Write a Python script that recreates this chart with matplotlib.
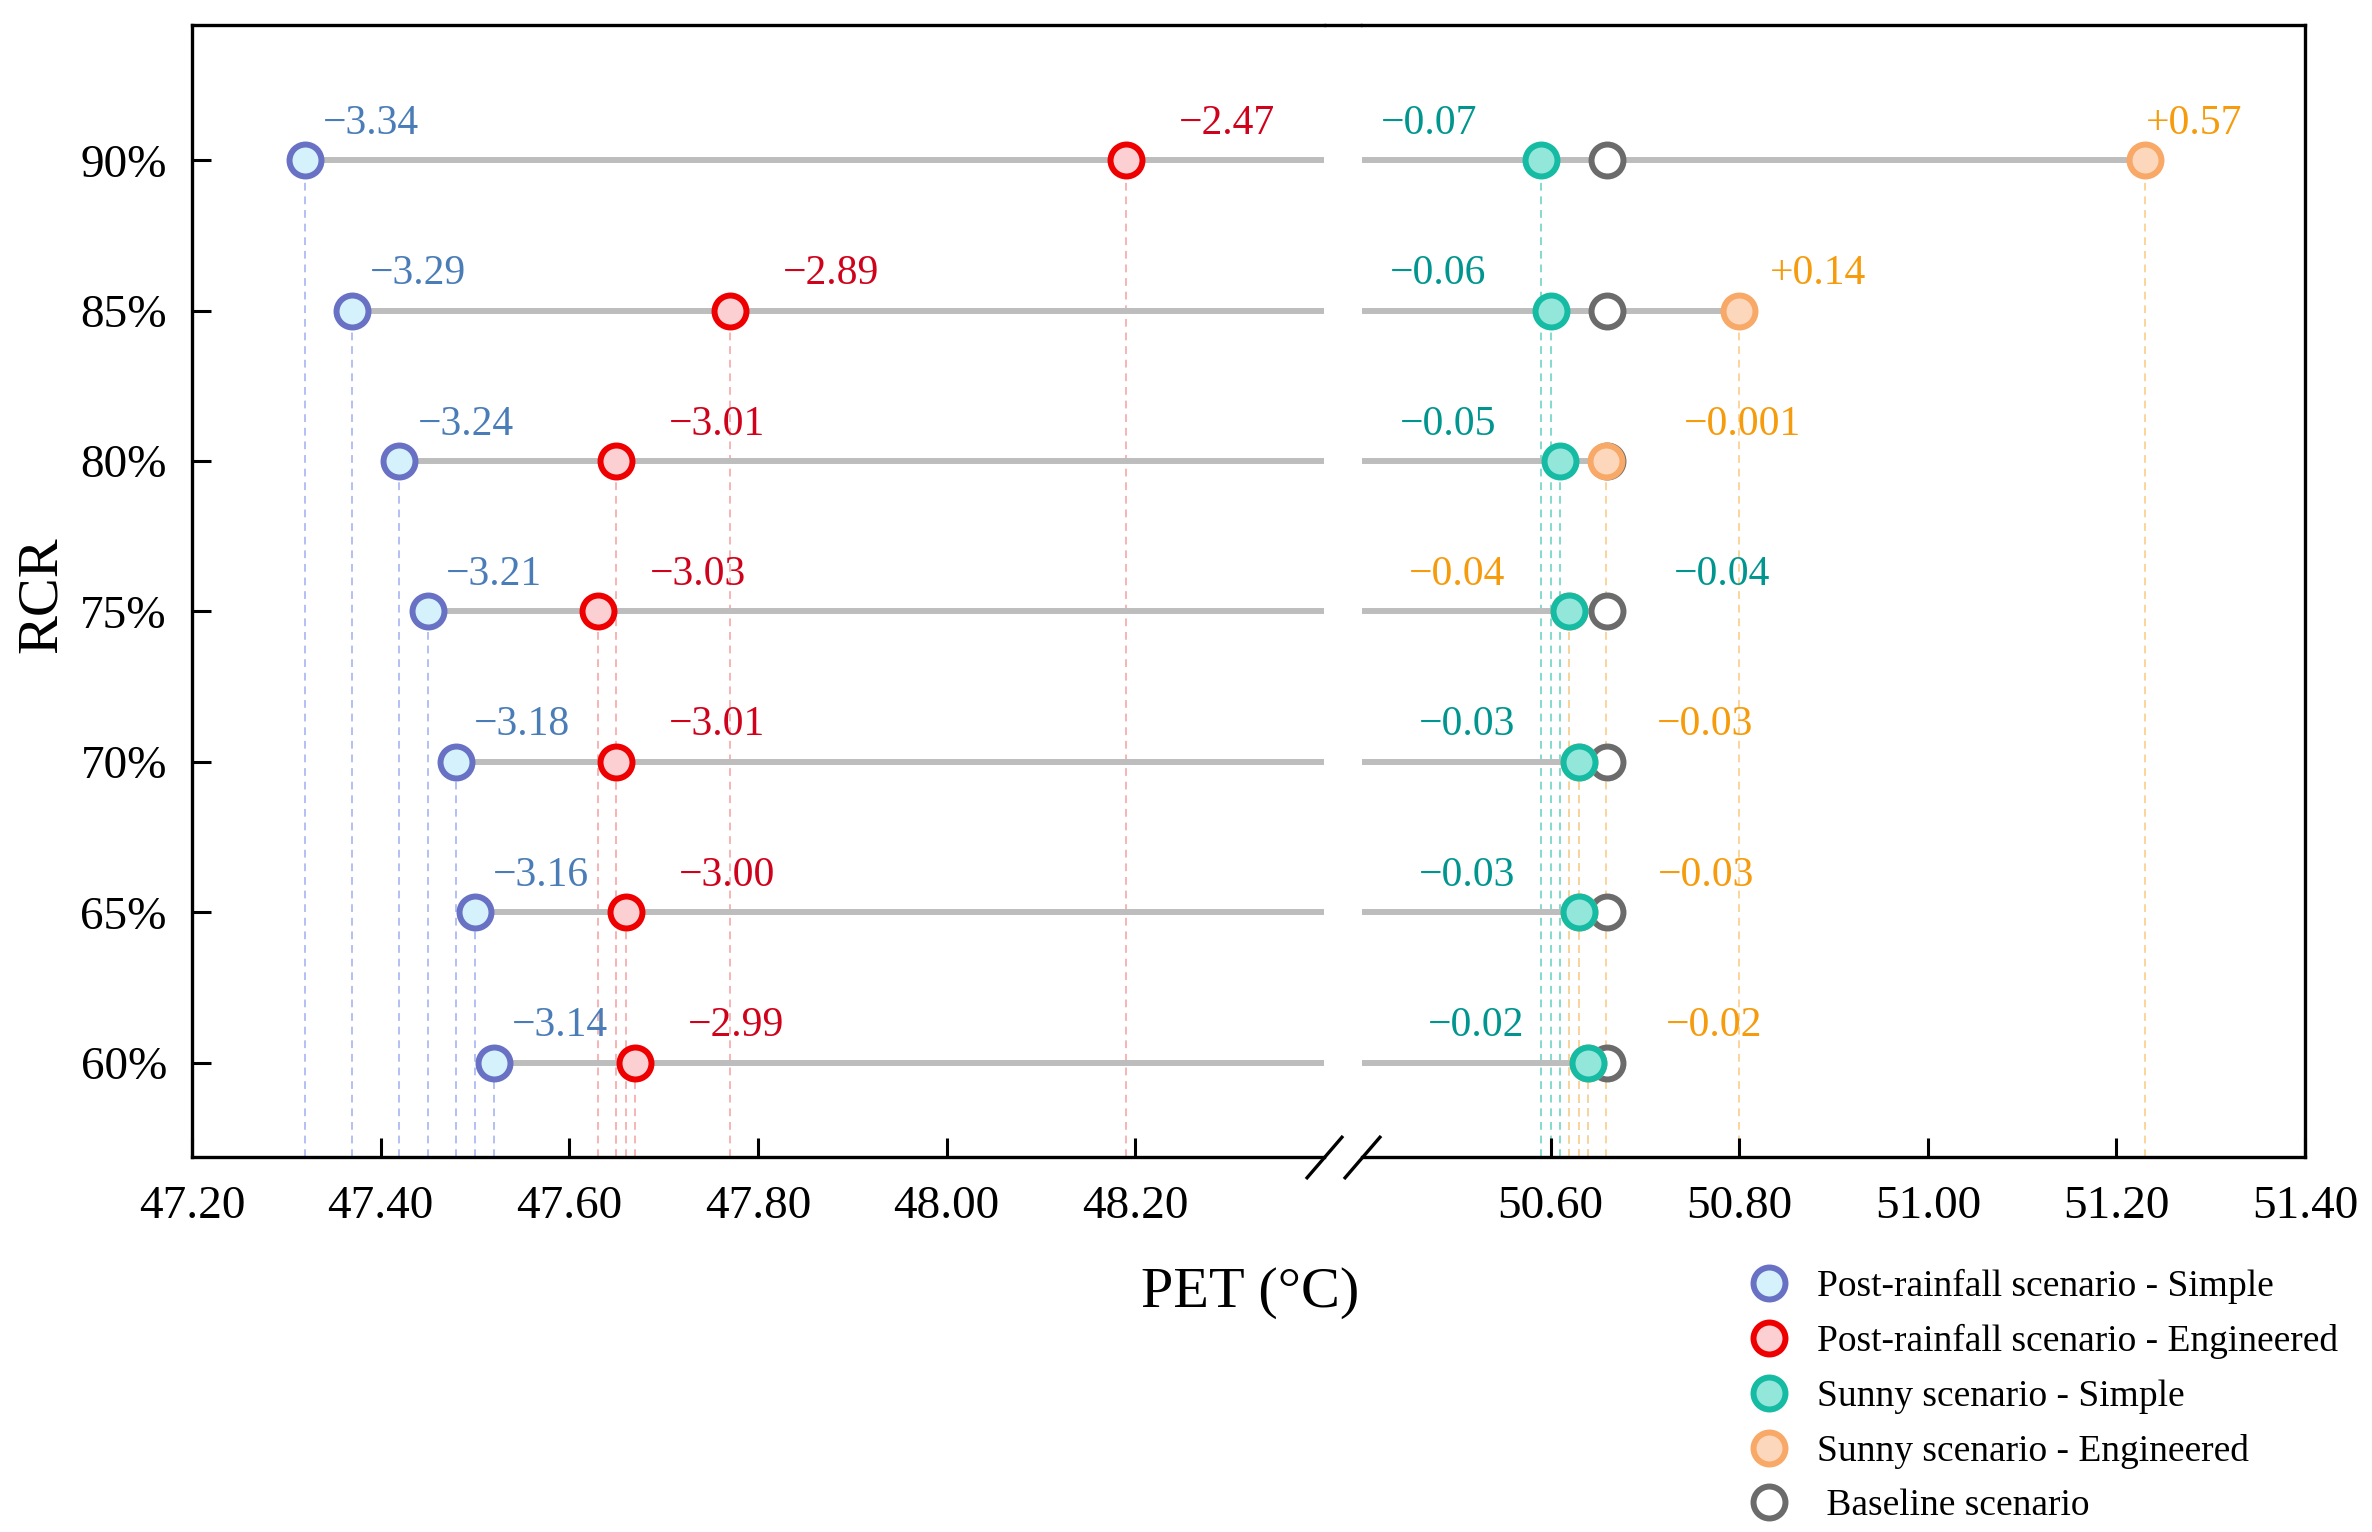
import matplotlib.pyplot as plt
from matplotlib.lines import Line2D

plt.rcParams['font.family'] = ['Liberation Serif', 'DejaVu Serif']

# RCR levels, bottom row first
rcr = ["60%", "65%", "70%", "75%", "80%", "85%", "90%"]

# PET of the baseline scenario (°C)
baseline_pet = [50.66, 50.66, 50.66, 50.66, 50.66, 50.66, 50.66]

# change in PET against the baseline (°C)
post_simple_diff = [-3.14, -3.16, -3.18, -3.21, -3.24, -3.29, -3.34]
post_eng_diff = [-2.99, -3.00, -3.01, -3.03, -3.01, -2.89, -2.47]
sunny_simple_diff = [-0.02, -0.03, -0.03, -0.04, -0.05, -0.06, -0.07]
sunny_eng_diff = [-0.02, -0.03, -0.03, -0.04, -0.001, 0.14, 0.57]

left_ticks = [47.20, 47.40, 47.60, 47.80, 48.00, 48.20]
right_ticks = [50.60, 50.80, 51.00, 51.20, 51.40]


def diff_label(d):
    txt = f"{abs(d):.2f}" if round(d, 2) == d else f"{abs(d):.3f}"
    return ("+" if d > 0 else "\u2212") + txt


# label offsets in points: >= 0 text starts there, < 0 text ends there
series = [
    dict(name="Post-rainfall scenario - Simple", diff=post_simple_diff,
         edge="#6871c4", fill="#d5f1fc", dash="#b4c0f3", text="#4a7db8",
         off=[13] * 7, z=4),
    dict(name="Post-rainfall scenario - Engineered", diff=post_eng_diff,
         edge="#ee0000", fill="#fcd0d2", dash="#f7b4b4", text="#d0021b",
         off=[38] * 7, z=4),
    dict(name="Sunny scenario - Simple", diff=sunny_simple_diff,
         edge="#16bba3", fill="#93e6da", dash="#84d9cd", text="#00968f",
         off=[-46, -46, -46, 75, -46, -46, -46], z=6),
    dict(name="Sunny scenario - Engineered", diff=sunny_eng_diff,
         edge="#f8a867", fill="#fdd7bb", dash="#fbd49c", text="#f59b0c",
         off=[56, 57, 56, -46, 56, 22, 1], z=5),
]

fig = plt.figure(figsize=(23.72, 15.32), dpi=100)
bottom, height = 0.245, 0.7387
ax1 = fig.add_axes([0.0809, bottom, 0.4773, height])
ax2 = fig.add_axes([0.5742, bottom, 0.3976, height])
ax1.set_xlim(47.20, 48.40)
ax2.set_xlim(50.40, 51.40)
ylo = -0.625
y = list(range(len(rcr)))

for s in series:
    s["pet"] = [b + d for b, d in zip(baseline_pet, s["diff"])]

for ax in (ax1, ax2):
    ax.set_ylim(ylo, 6.9)
    # grey connector per row
    for i in y:
        row = [baseline_pet[i]] + [s["pet"][i] for s in series]
        ax.plot([min(row), max(row)], [i, i], color="#bdbdbd", lw=4.3,
                solid_capstyle="butt", zorder=2)
    for s in series:
        ax.vlines(s["pet"], ylo, y, colors=s["dash"], lw=1.4,
                  linestyles=(0, (4, 3)), zorder=1)
        ax.plot(s["pet"], y, "o", ms=23, mew=4.3, mec=s["edge"], mfc=s["fill"],
                ls="none", zorder=s["z"])
    ax.plot(baseline_pet, y, "o", ms=23, mew=4.3, mec="#6b6b6b", mfc="white",
            ls="none", zorder=3)
    for sp in ax.spines.values():
        sp.set_linewidth(2.4)
    ax.tick_params(direction="in", length=14, width=2.2, labelsize=34)
    ax.tick_params(axis="x", pad=21)
    ax.tick_params(axis="y", pad=18)

for s in series:
    for i, (x, o) in enumerate(zip(s["pet"], s["off"])):
        ax = ax1 if x <= 48.40 else ax2
        ax.annotate(diff_label(s["diff"][i]), (x, i), xytext=(o, 19),
                    textcoords="offset points", ha="left" if o >= 0 else "right",
                    va="baseline", fontsize=30, color=s["text"], zorder=7)

ax1.spines["right"].set_visible(False)
ax2.spines["left"].set_visible(False)
ax1.set_xticks(left_ticks)
ax1.set_xticklabels([f"{t:.2f}" for t in left_ticks])
ax2.set_xticks(right_ticks)
ax2.set_xticklabels([f"{t:.2f}" for t in right_ticks])
ax1.set_yticks(y)
ax1.set_yticklabels(rcr)
ax2.set_yticks([])

# close the top frame over the break
fig.add_artist(Line2D([0.5582, 0.5742], [bottom + height] * 2, color="black",
                      lw=2.4, solid_capstyle="butt"))

# break marks on the bottom axis
brk = dict(marker=[(-0.86, -1), (0.86, 1)], markersize=31, ls="none",
           color="black", mec="black", mew=2.4, clip_on=False, zorder=8)
ax1.plot([1], [0], transform=ax1.transAxes, **brk)
ax2.plot([0], [0], transform=ax2.transAxes, **brk)

fig.text(0.0175, 0.6116, "RCR", rotation=90, ha="center", va="center",
         fontsize=42)
fig.text(0.527, 0.1469, "PET (°C)", ha="center", va="baseline", fontsize=42)

handles = [Line2D([], [], marker="o", ls="none", ms=23, mew=4.3,
                  mec=s["edge"], mfc=s["fill"]) for s in series]
handles.append(Line2D([], [], marker="o", ls="none", ms=23, mew=4.3,
                      mec="#6b6b6b", mfc="white"))
labels = [s["name"] for s in series] + [" Baseline scenario"]
fig.legend(handles, labels, loc="upper left", bbox_to_anchor=(0.7378, 0.1715),
           frameon=False, fontsize=27, handlelength=1.0, handletextpad=0.78,
           labelspacing=0.53, borderpad=0, borderaxespad=0)

fig.savefig("out.png", dpi=100)
